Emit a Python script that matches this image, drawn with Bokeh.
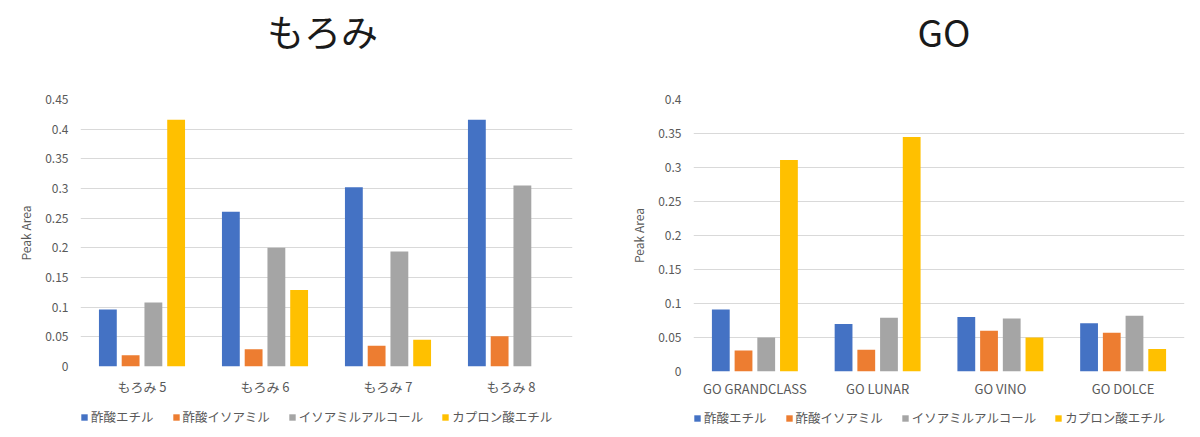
from bokeh.plotting import figure
from bokeh.layouts import row, column
from bokeh.models import (ColumnDataSource, FactorRange, Range1d, Legend, LegendItem, Label,
                          SingleIntervalTicker, NumeralTickFormatter)
from bokeh.transform import dodge
from bokeh.embed import file_html
from bokeh.resources import INLINE

# compounds (legend)
compounds = ["酢酸エチル", "酢酸イソアミル", "イソアミルアルコール", "カプロン酸エチル"]
colors = ["#4472C4", "#ED7D31", "#A5A5A5", "#FFC000"]

# もろみ chart
moromi_groups = ["もろみ 5", "もろみ 6", "もろみ 7", "もろみ 8"]
moromi_ethyl_acetate = [0.096, 0.261, 0.302, 0.416]
moromi_isoamyl_acetate = [0.019, 0.029, 0.035, 0.051]
moromi_isoamyl_alcohol = [0.108, 0.200, 0.194, 0.305]
moromi_ethyl_caproate = [0.416, 0.129, 0.045, 0.0]

# GO chart
go_groups = ["GO GRANDCLASS", "GO LUNAR", "GO VINO", "GO DOLCE"]
go_ethyl_acetate = [0.091, 0.070, 0.080, 0.071]
go_isoamyl_acetate = [0.031, 0.032, 0.060, 0.057]
go_isoamyl_alcohol = [0.050, 0.079, 0.078, 0.082]
go_ethyl_caproate = [0.311, 0.345, 0.050, 0.033]

FONT = "Noto Sans CJK JP"
GRAY_TEXT = "#595959"
COL_W = 600


def blank_figure(height):
    # frame of these strips lines up with the chart frame above/below it
    q = figure(width=COL_W, height=height, x_range=Range1d(0, 1), y_range=Range1d(0, height),
               toolbar_location=None, output_backend="svg",
               min_border_left=0, min_border_right=0, min_border_top=0, min_border_bottom=0)
    q.axis.visible = False
    q.grid.visible = False
    q.outline_line_color = None
    return q


def make_header(title, shift):
    h = blank_figure(68)
    h.add_layout(Label(x=0.5, y=38, x_offset=shift, text=title, text_align="center",
                       text_baseline="middle", text_font=FONT, text_font_size="37px",
                       text_color="#1a1a1a"))
    return h


def make_chart(groups, series, ymax, frame_w, frame_h, border_left, border_right,
               border_bottom, x_standoff):
    source = ColumnDataSource(data=dict(group=groups, s0=series[0], s1=series[1],
                                        s2=series[2], s3=series[3]))
    p = figure(x_range=FactorRange(*groups), y_range=Range1d(0, ymax),
               frame_width=frame_w, frame_height=frame_h,
               toolbar_location=None, output_backend="svg",
               min_border_left=border_left, min_border_right=border_right,
               min_border_top=31, min_border_bottom=border_bottom)

    offsets = [-0.2775, -0.0925, 0.0925, 0.2775]
    for i, col in enumerate(colors):
        p.vbar(x=dodge("group", offsets[i], range=p.x_range), top="s%d" % i,
               width=0.145, source=source, fill_color=col, line_color=None)

    p.outline_line_color = None
    p.xgrid.grid_line_color = None
    p.ygrid.grid_line_color = "#D9D9D9"
    p.ygrid.grid_line_width = 1

    p.yaxis.ticker = SingleIntervalTicker(interval=0.05, num_minor_ticks=0)
    p.yaxis.formatter = NumeralTickFormatter(format="0.[00]")
    p.yaxis.axis_label = "Peak Area"
    p.yaxis.axis_label_text_font = FONT
    p.yaxis.axis_label_text_font_size = "12px"
    p.yaxis.axis_label_text_font_style = "normal"
    p.yaxis.axis_label_text_color = GRAY_TEXT
    p.yaxis.axis_label_standoff = 8

    for ax in (p.xaxis, p.yaxis):
        ax.axis_line_color = None
        ax.major_tick_line_color = None
        ax.minor_tick_line_color = None
        ax.major_tick_out = 0
        ax.major_tick_in = 0
        ax.minor_tick_out = 0
        ax.major_label_text_font = FONT
        ax.major_label_text_font_size = "12px"
        ax.major_label_text_color = GRAY_TEXT
    p.xaxis.major_label_text_font_size = "13px"
    p.yaxis.major_label_standoff = 12
    p.xaxis.major_label_standoff = x_standoff
    return p


def make_legend():
    # legend strip under each chart
    q = blank_figure(30)
    items = []
    for name, col in zip(compounds, colors):
        r = q.vbar(x=[0.5], top=[0], bottom=[0], width=0.1, fill_color=col, line_color=None)
        items.append(LegendItem(label=name, renderers=[r]))
    legend = Legend(items=items, orientation="horizontal", location=(0, 3),
                    label_text_font=FONT, label_text_font_size="12.5px",
                    label_text_color=GRAY_TEXT, glyph_width=8, glyph_height=8,
                    label_height=14, label_standoff=3, spacing=18, padding=0, margin=0,
                    background_fill_alpha=0, border_line_color=None)
    q.add_layout(legend, "center")
    return q


left = make_chart(moromi_groups,
                  [moromi_ethyl_acetate, moromi_isoamyl_acetate,
                   moromi_isoamyl_alcohol, moromi_ethyl_caproate],
                  0.45, 492, 267, 80, 28, 33, 10)
right = make_chart(go_groups,
                   [go_ethyl_acetate, go_isoamyl_acetate,
                    go_isoamyl_alcohol, go_ethyl_caproate],
                   0.4, 491, 272, 93, 16, 28, 7)

layout = row(column(make_header("もろみ", -4), left, make_legend(), spacing=0),
             column(make_header("GO", 5), right, make_legend(), spacing=0), spacing=0)
open("out.html", "w").write(file_html(layout, INLINE))
